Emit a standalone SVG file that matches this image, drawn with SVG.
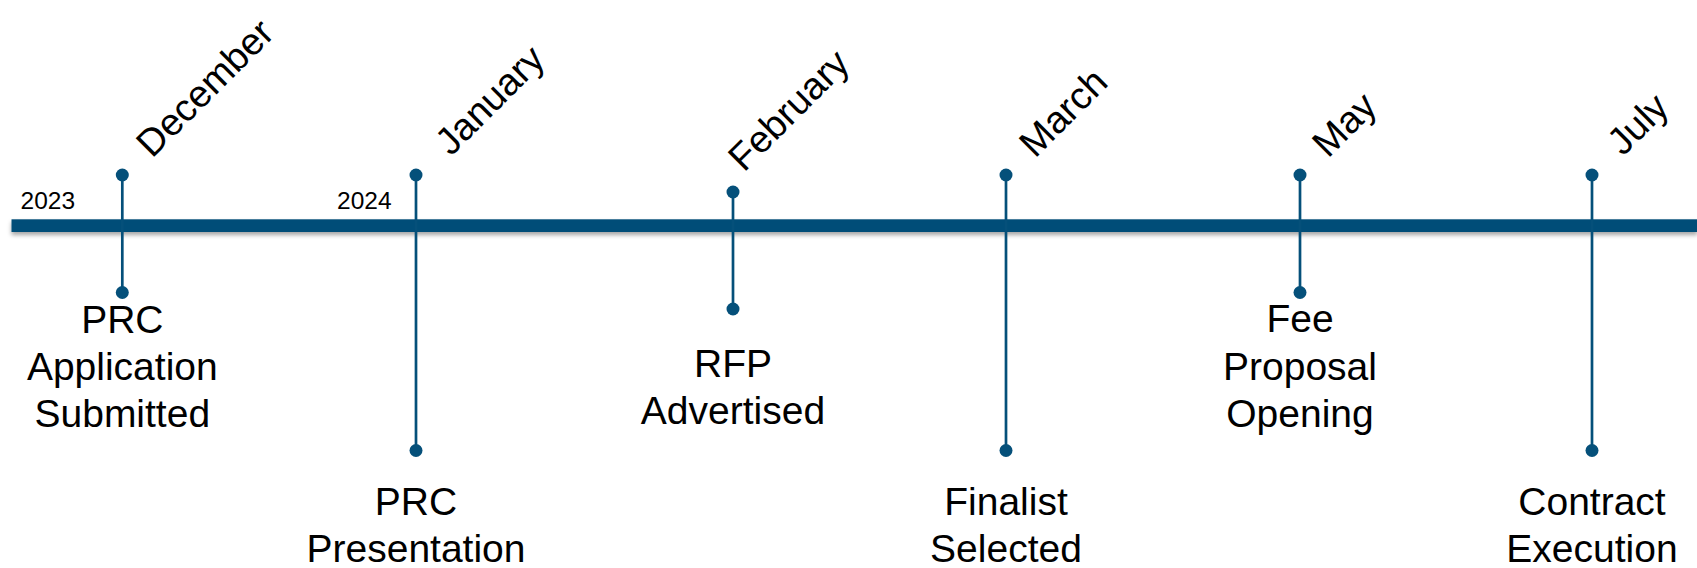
<svg xmlns="http://www.w3.org/2000/svg" width="1697" height="568" viewBox="0 0 1697 568">
<style>
.stem{stroke:#05507a;stroke-width:2.7;fill:none}
.dot{fill:#05507a}
.lbl{font-family:"Liberation Sans",Arial,sans-serif;font-size:39px;fill:#000;text-anchor:middle}
.mon{font-family:"Liberation Sans",Arial,sans-serif;font-size:38px;fill:#000}
.yr{font-family:"Liberation Sans",Arial,sans-serif;font-size:24.5px;fill:#000}
</style>
<defs>
<filter id="sh" x="-1%" y="-100%" width="102%" height="300%">
<feDropShadow dx="0" dy="3" stdDeviation="2" flood-color="#000" flood-opacity="0.35"/>
</filter>
</defs>
<rect width="1697" height="568" fill="#fff"/>
<g id="axis">
<rect x="11.5" y="219.3" width="1686" height="12.7" fill="#034e78" filter="url(#sh)"/>
<text class="yr" x="20.5" y="208.5">2023</text>
<text class="yr" x="337" y="208.5">2024</text>
</g>
<g id="connectors">
<line class="stem" x1="122.3" y1="175" x2="122.3" y2="292.5"/>
<line class="stem" x1="416" y1="175" x2="416" y2="450.5"/>
<line class="stem" x1="733" y1="192" x2="733" y2="309"/>
<line class="stem" x1="1006" y1="175" x2="1006" y2="450.5"/>
<line class="stem" x1="1300" y1="175" x2="1300" y2="292.5"/>
<line class="stem" x1="1592" y1="175" x2="1592" y2="450.5"/>
</g>
<g id="dec">
<circle class="dot" cx="122.3" cy="175" r="6.5"/><circle class="dot" cx="122.3" cy="292.5" r="6.5"/>
<text class="mon" transform="translate(152,159) rotate(-45)">December</text>
<text class="lbl"><tspan x="122.3" y="333">PRC</tspan><tspan x="122.3" y="380">Application</tspan><tspan x="122.3" y="427">Submitted</tspan></text>
</g>
<g id="jan">
<circle class="dot" cx="416" cy="175" r="6.5"/><circle class="dot" cx="416" cy="450.5" r="6.5"/>
<text class="mon" transform="translate(451,157) rotate(-45)">January</text>
<text class="lbl"><tspan x="416" y="515">PRC</tspan><tspan x="416" y="562">Presentation</tspan></text>
</g>
<g id="feb">
<circle class="dot" cx="733" cy="192" r="6.5"/><circle class="dot" cx="733" cy="309" r="6.5"/>
<text class="mon" transform="translate(744,173) rotate(-45)">February</text>
<text class="lbl"><tspan x="733" y="377">RFP</tspan><tspan x="733" y="424">Advertised</tspan></text>
</g>
<g id="mar">
<circle class="dot" cx="1006" cy="175" r="6.5"/><circle class="dot" cx="1006" cy="450.5" r="6.5"/>
<text class="mon" transform="translate(1035,159) rotate(-45)">March</text>
<text class="lbl"><tspan x="1006" y="515">Finalist</tspan><tspan x="1006" y="562">Selected</tspan></text>
</g>
<g id="may">
<circle class="dot" cx="1300" cy="175" r="6.5"/><circle class="dot" cx="1300" cy="292.5" r="6.5"/>
<text class="mon" transform="translate(1328,159) rotate(-45)">May</text>
<text class="lbl"><tspan x="1300" y="332">Fee</tspan><tspan x="1300" y="380">Proposal</tspan><tspan x="1300" y="427">Opening</tspan></text>
</g>
<g id="jul">
<circle class="dot" cx="1592" cy="175" r="6.5"/><circle class="dot" cx="1592" cy="450.5" r="6.5"/>
<text class="mon" transform="translate(1623,157) rotate(-45)">July</text>
<text class="lbl"><tspan x="1592" y="515">Contract</tspan><tspan x="1592" y="562">Execution</tspan></text>
</g>
</svg>
